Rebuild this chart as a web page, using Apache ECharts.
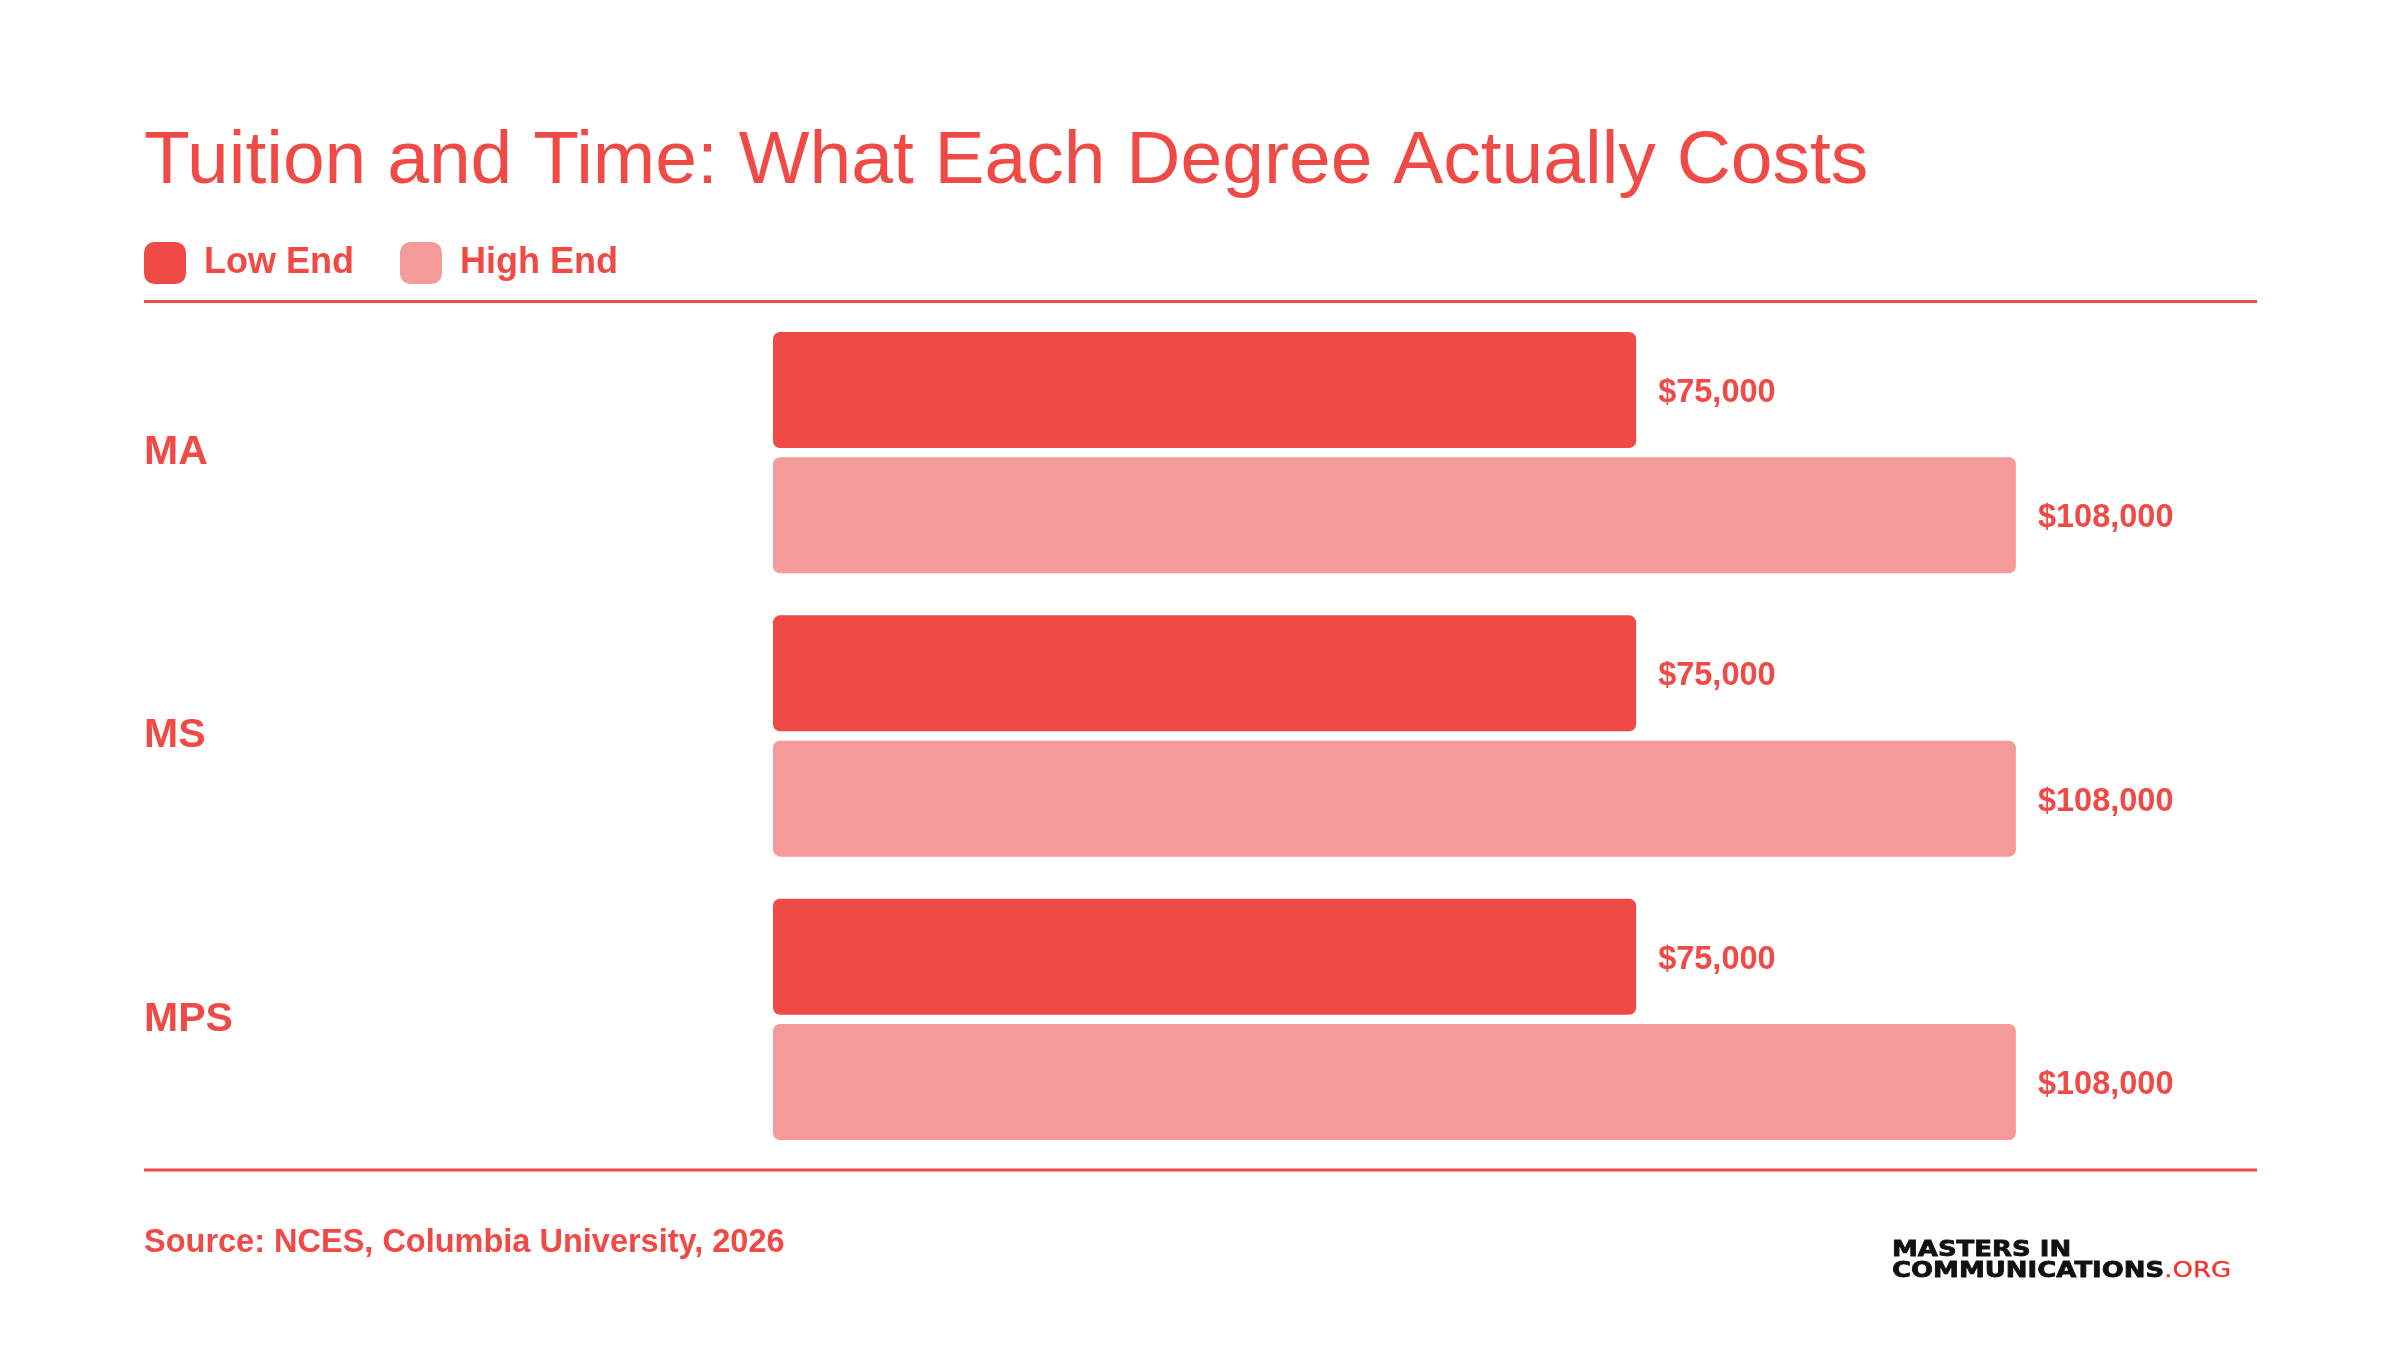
<!DOCTYPE html>
<html>
<head>
<meta charset="utf-8">
<script src="https://cdn.jsdelivr.net/npm/echarts@6/dist/echarts.min.js"></script>
<style>
  html, body { margin: 0; padding: 0; background: #fff; }
  #chart { width: 2400px; height: 1350px; }
</style>
</head>
<body>
<div id="chart"></div>
<script>
var degrees = ['MA', 'MS', 'MPS'];
var lowEnd = [75000, 75000, 75000];
var highEnd = [108000, 108000, 108000];

var red = '#f04a46';
var pink = '#f49a99';
var font = '"Liberation Sans", Arial, Helvetica, sans-serif';
var logoFont = '"DejaVu Sans", sans-serif';

var myChart = echarts.init(document.getElementById('chart'));

function money(p) {
  return '$' + p.value.toLocaleString('en-US');
}

// value label, same for both series
var valueLabel = {
  show: true,
  position: 'right',
  distance: 22,
  offset: [0, 3],
  formatter: money,
  color: red,
  fontSize: 32.5,
  fontWeight: 'bold',
  fontFamily: font
};

var option = {
  backgroundColor: '#fff',
  textStyle: { fontFamily: font },
  legend: {
    left: 144,
    top: 242,
    padding: 0,
    itemWidth: 42,
    itemHeight: 42,
    itemGap: 46,
    icon: 'roundRect',
    textStyle: {
      color: red,
      fontSize: 36,
      fontWeight: 'bold',
      fontFamily: font,
      padding: [0, 0, 0, 13]
    },
    data: ['Low End', 'High End']
  },
  grid: {
    left: 773,
    right: 246,
    top: 311,
    bottom: 189,
    containLabel: false
  },
  xAxis: {
    type: 'value',
    min: 0,
    max: 120000,
    show: false
  },
  yAxis: {
    type: 'category',
    inverse: true,
    data: degrees,
    axisLine: { show: false },
    axisTick: { show: false },
    axisLabel: {
      align: 'left',
      margin: 629,
      padding: [10, 0, 0, 0],
      color: red,
      fontSize: 41,
      fontWeight: 'bold',
      fontFamily: font
    }
  },
  series: [
    {
      name: 'Low End',
      type: 'bar',
      data: lowEnd,
      barWidth: 116,
      barGap: '8%',
      itemStyle: { color: red, borderRadius: 7 },
      label: valueLabel
    },
    {
      name: 'High End',
      type: 'bar',
      data: highEnd,
      barWidth: 116,
      barGap: '8%',
      itemStyle: { color: pink, borderRadius: 7 },
      label: valueLabel
    }
  ],
  graphic: [
    {
      type: 'text',
      left: 144,
      top: 125,
      style: {
        text: 'Tuition and Time: What Each Degree Actually Costs',
        fill: red,
        fontSize: 75,
        fontFamily: font
      }
    },
    {
      type: 'line',
      shape: { x1: 144, y1: 301.5, x2: 2257, y2: 301.5 },
      style: { stroke: red, lineWidth: 3 }
    },
    {
      type: 'line',
      shape: { x1: 144, y1: 1170, x2: 2257, y2: 1170 },
      style: { stroke: red, lineWidth: 3 }
    },
    {
      type: 'text',
      left: 144,
      top: 1227,
      style: {
        text: 'Source: NCES, Columbia University, 2026',
        fill: red,
        fontSize: 32.5,
        fontWeight: 'bold',
        fontFamily: font
      }
    },
    // logo
    {
      type: 'text',
      x: 1892,
      y: 1250,
      scaleX: 1.18,
      style: {
        text: 'MASTERS IN',
        fill: '#111',
        stroke: '#111',
        lineWidth: 0.8,
        fontSize: 22,
        fontWeight: 'bold',
        fontFamily: logoFont,
        verticalAlign: 'middle'
      }
    },
    {
      type: 'text',
      x: 1892,
      y: 1271,
      scaleX: 1.18,
      style: {
        text: '{b|COMMUNICATIONS}{r|.ORG}',
        fontSize: 22,
        fontFamily: logoFont,
        verticalAlign: 'middle',
        rich: {
          b: { fill: '#111', stroke: '#111', lineWidth: 0.8, fontSize: 22, fontWeight: 'bold', fontFamily: logoFont },
          r: { fill: '#f0332d', stroke: '#f0332d', lineWidth: 0.3, fontSize: 22, fontWeight: 'normal', fontFamily: logoFont }
        }
      }
    }
  ]
};

option && myChart.setOption(option);
</script>
</body>
</html>
